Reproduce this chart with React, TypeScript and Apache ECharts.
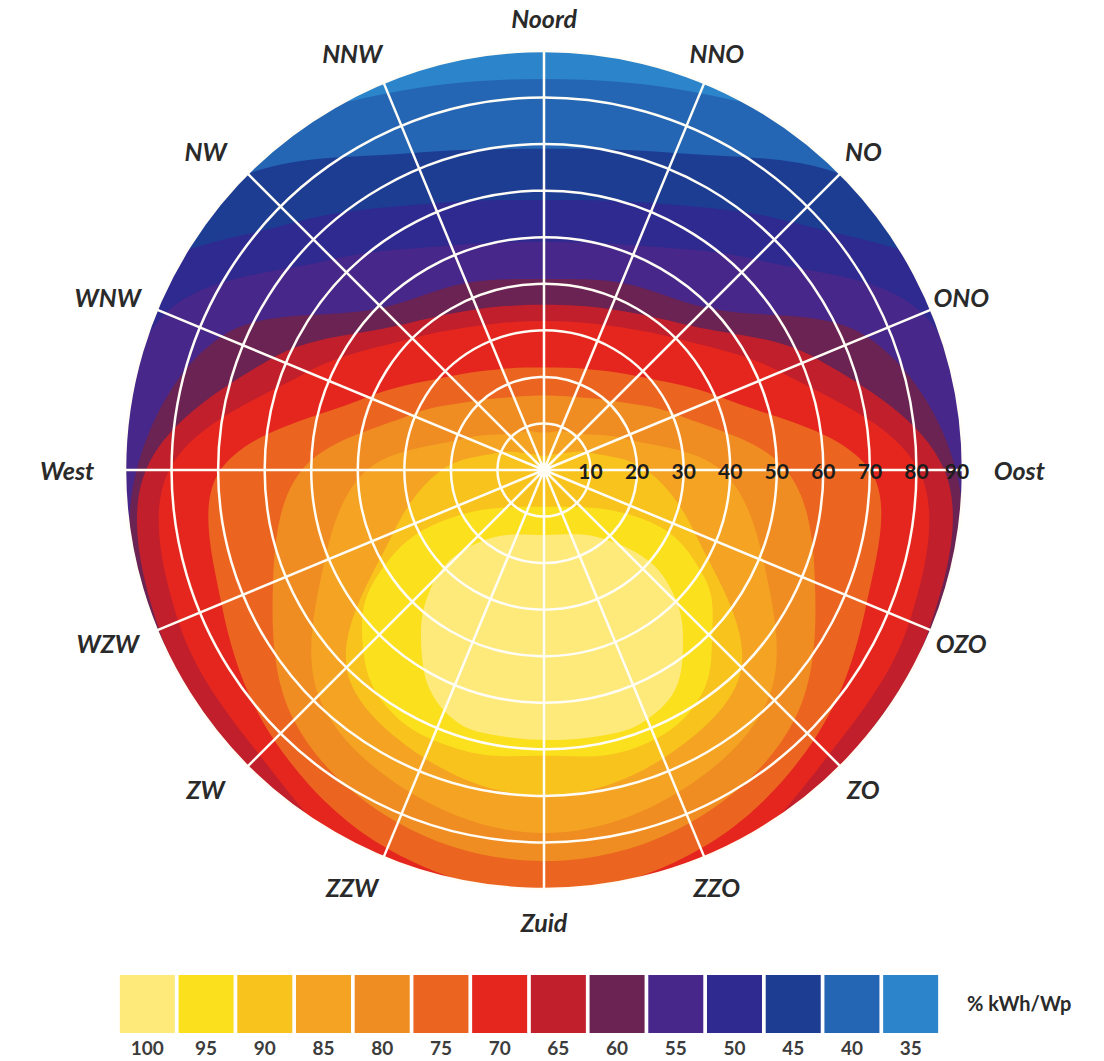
import React, { useEffect, useRef } from 'react';
import * as echarts from 'echarts';

// Compass directions (azimuth measured clockwise from north)
const AZIMUTHS = [0, 22.5, 45, 67.5, 90, 112.5, 135, 157.5, 180, 202.5, 225, 247.5, 270, 292.5, 315, 337.5];
const DIRECTION_NAMES = ['Noord', 'NNO', 'NO', 'ONO', 'Oost', 'OZO', 'ZO', 'ZZO', 'Zuid', 'ZZW', 'ZW', 'WZW', 'West', 'WNW', 'NW', 'NNW'];
// Tilt (hellingshoek) ticks
const TILT_TICKS = [10, 20, 30, 40, 50, 60, 70, 80, 90];

// Legend
const LEGEND_VALUES = [100, 95, 90, 85, 80, 75, 70, 65, 60, 55, 50, 45, 40, 35];
const LEGEND_COLORS = ['#FDEA7A', '#FBE01E', '#F8C31D', '#F4A323', '#F08D22', '#EB6420', '#E4261F', '#C01F2B', '#6A2353', '#472789', '#2E2A90', '#1D3D93', '#2566B4', '#2C85CA'];
const UNIT_LABEL = '% kWh/Wp';

// Outer edge (tilt in degrees) of the region with yield >= level, per azimuth in AZIMUTHS order
const EDGE_35 = [92, 92, 92, 92, 92, 92, 92, 92, 92, 92, 92, 92, 92, 92, 92, 92];
const EDGE_40 = [84, 87.6, 99, 118, 130, 130, 130, 130, 130, 130, 130, 130, 130, 118, 99, 87.6];
const EDGE_45 = [69, 73.7, 90, 110, 120, 122, 124, 126, 128, 126, 124, 122, 120, 110, 90, 73.7];
const EDGE_50 = [58, 62, 75.3, 100, 105, 108, 112, 116, 118, 116, 112, 108, 104, 100, 75.3, 62];
const EDGE_55 = [49, 52.2, 64, 88, 93, 99, 104, 110, 112, 110, 104, 99, 92, 88, 64, 52.2];
const EDGE_60 = [41, 43.5, 49.3, 75, 88.5, 93, 98, 106, 108, 106, 98, 93, 87.5, 75, 49.3, 43.5];
const EDGE_65 = [35.5, 37.4, 44, 63, 86, 89.5, 90.5, 100, 103, 100, 90.5, 89.5, 85.5, 63, 44, 37.4];
const EDGE_70 = [32, 33.7, 40, 55, 80.5, 85, 86.5, 94, 97, 94, 86.5, 85, 80.5, 55, 40, 33.7];
const EDGE_75 = [22, 23.5, 28.5, 41, 70, 75, 82, 88, 91, 88, 82, 75, 69.5, 41, 28.5, 23.5];
const EDGE_80 = [16, 17, 21, 31, 52, 63, 76, 82, 84, 82, 76, 63, 52, 31, 21, 17];
const EDGE_85 = [8, 9, 11, 18, 38, 51, 68.5, 75, 78, 75, 68.5, 51, 38, 18, 11, 9];
const EDGE_90 = [3, 3.5, 5, 10, 22, 35, 60, 67, 70, 67, 60, 35, 22, 10, 5, 3.5];

// Regions that do not contain the horizontal (0 degree) point: [azimuth, tilt] outline points
const ISLAND_95 = [
  [180, 7.9], [116.1, 25.4], [123.4, 40.9], [133.7, 50], [146.2, 59.5], [161.9, 62.8],
  [180, 61.4], [197.8, 62.7], [214.1, 60.9], [227.6, 52.9], [237.7, 42.2], [243.4, 25.0],
];
const ISLAND_100 = [
  [180, 13.96], [141.65, 18.35], [130.96, 30.15], [134.56, 39.8], [140.73, 47.16], [149.23, 54.99],
  [159.3, 58.32], [168.11, 58.38], [178.3, 58.0], [189.39, 57.9], [198.3, 57.46], [207.39, 53.22],
  [215.89, 45.06], [222.43, 37.25], [226.25, 27.95], [216.18, 17.83],
];

const BAND_LEVELS = [35, 40, 45, 50, 55, 60, 65, 70, 75, 80, 85, 90];
const BAND_EDGES = [EDGE_35, EDGE_40, EDGE_45, EDGE_50, EDGE_55, EDGE_60, EDGE_65, EDGE_70, EDGE_75, EDGE_80, EDGE_85, EDGE_90];

const colorOf = (level: number) => LEGEND_COLORS[LEGEND_VALUES.indexOf(level)];

const REGIONS = [
  ...BAND_LEVELS.map((level, i) => ({
    level,
    points: AZIMUTHS.map((az, k) => [az, BAND_EDGES[i][k]]),
    smooth: 0.35,
  })),
  { level: 95, points: ISLAND_95, smooth: 0.4 },
  { level: 100, points: ISLAND_100, smooth: 0.35 },
];

const FONT = 'Lato, "Open Sans", sans-serif';

export default function App() {
  const ref = useRef<HTMLDivElement>(null);

  useEffect(() => {
    document.body.style.margin = '0';
    if (!ref.current) return;
    const chart = echarts.init(ref.current, undefined, { renderer: 'svg' });

    const option: any = {
      animation: false,
      backgroundColor: '#ffffff',
      polar: { center: [544, 470], radius: 419 },
      angleAxis: {
        type: 'value', min: 0, max: 360, interval: 22.5, startAngle: 90, clockwise: true, z: 5,
        axisLine: { show: false }, axisTick: { show: false }, axisLabel: { show: false },
        splitLine: { show: true, lineStyle: { color: '#fffdf6', width: 2.5 } },
      },
      radiusAxis: {
        type: 'value', min: 0, max: 90, interval: 10, z: 5,
        axisLine: { show: false }, axisTick: { show: false }, axisLabel: { show: false },
        splitLine: { show: true, lineStyle: { color: '#fffdf6', width: 2.5 } },
      },
      grid: { left: 118, top: 975, width: 822, height: 58 },
      xAxis: {
        type: 'category', data: LEGEND_VALUES.map(String),
        axisLine: { show: false }, axisTick: { show: false },
        axisLabel: { interval: 0, margin: 5, color: '#3c3c3c', fontSize: 19, fontWeight: 'bold', fontFamily: FONT },
      },
      yAxis: { type: 'value', min: 0, max: 1, show: false },
      graphic: [
        {
          type: 'text', left: 967, top: 993,
          style: { text: UNIT_LABEL, fill: '#2a2a2a', font: `bold 20px ${FONT}` },
        },
      ],
      series: [
        {
          type: 'custom', coordinateSystem: 'polar', clip: true, silent: true, z: 2,
          data: REGIONS.map(() => [0, 0]),
          renderItem: (params: any, api: any) => {
            const region = REGIONS[params.dataIndex];
            const pts = region.points.map(([az, tilt]) => api.coord([tilt, az]));
            return {
              type: 'polygon',
              shape: { points: pts, smooth: region.smooth },
              style: { fill: colorOf(region.level), stroke: null },
            };
          },
        },
        {
          type: 'custom', coordinateSystem: 'polar', clip: false, silent: true, z: 10,
          data: DIRECTION_NAMES.map(() => [0, 0]),
          renderItem: (params: any, api: any) => {
            const i = params.dataIndex;
            const az = AZIMUTHS[i];
            const side = az === 90 ? 'left' : az === 270 ? 'right' : 'center';
            const r = side === 'center' ? 97 : 96.6;
            const p = api.coord([r, az]);
            const dx = side === 'center' && az > 180 ? -19 : 0;
            return {
              type: 'text', x: p[0] + dx, y: p[1],
              style: {
                text: DIRECTION_NAMES[i], fill: '#2a2a2a', fontSize: 25, fontWeight: 'bold',
                fontStyle: 'italic', fontFamily: FONT, align: side, verticalAlign: 'middle',
              },
            };
          },
        },
        {
          type: 'custom', coordinateSystem: 'polar', clip: false, silent: true, z: 10,
          data: TILT_TICKS.map(() => [0, 0]),
          renderItem: (params: any, api: any) => {
            const t = TILT_TICKS[params.dataIndex];
            const p = api.coord([t, 90]);
            return {
              type: 'text', x: p[0] - (t === 90 ? 6 : 0), y: p[1],
              style: {
                text: String(t), fill: '#1c1c1c', fontSize: 21, fontWeight: 'bold',
                fontFamily: FONT, align: 'center', verticalAlign: 'middle',
              },
            };
          },
        },
        {
          type: 'bar', xAxisIndex: 0, yAxisIndex: 0, silent: true, barCategoryGap: '6.3%',
          data: LEGEND_VALUES.map((v, i) => ({ value: 1, itemStyle: { color: LEGEND_COLORS[i] } })),
        },
      ],
    };

    chart.setOption(option);
    return () => chart.dispose();
  }, []);

  return <div ref={ref} style={{ width: 1104, height: 1061 }} />;
}
